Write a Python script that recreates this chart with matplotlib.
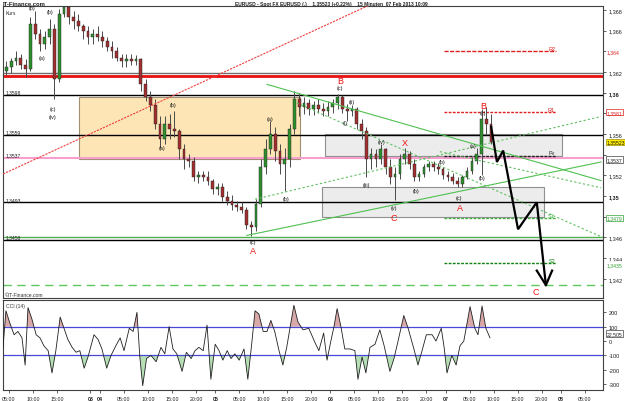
import matplotlib
matplotlib.use('Agg')
import matplotlib.pyplot as plt
import matplotlib.transforms as mtrans
from matplotlib.patches import Rectangle
import numpy as np

plt.rcParams['font.family'] = ['Liberation Sans', 'DejaVu Sans']

# ---------------- data (hourly bars, x in trading hours from 01 Feb 00:00, weekend collapsed) -------------
bar_hours = list(range(4, 106))
closes = [1.3625, 1.3631, 1.3634, 1.3627, 1.3623, 1.3666, 1.3657, 1.3647, 1.3654, 1.3662,
          1.3613, 1.3676, 1.3683, 1.3673, 1.3669, 1.3664, 1.3660, 1.3654, 1.3657, 1.3654,
          1.3650, 1.3644, 1.3640, 1.3634, 1.3631, 1.3633, 1.3631, 1.3633, 1.3608, 1.3596,
          1.3588, 1.3570, 1.3555, 1.3570, 1.3565, 1.3563, 1.3546, 1.3536, 1.3534, 1.3518,
          1.3520, 1.3518, 1.3515, 1.3507, 1.3509, 1.3499, 1.3495, 1.3491, 1.3489, 1.3487,
          1.3472, 1.3470, 1.3492, 1.3528, 1.3546, 1.3560, 1.3544, 1.3531, 1.3536, 1.3565,
          1.3594, 1.3586, 1.3590, 1.3584, 1.3588, 1.3584, 1.3582, 1.3586, 1.3590, 1.3596,
          1.3584, 1.3582, 1.3584, 1.3570, 1.3563, 1.3536, 1.3541, 1.3536, 1.3546, 1.3528,
          1.3518, 1.3521, 1.3536, 1.3541, 1.3531, 1.3518, 1.3521, 1.3528, 1.3531, 1.3528,
          1.3526, 1.3520, 1.3518, 1.3515, 1.3512, 1.3518, 1.3524, 1.3534, 1.3541, 1.3575,
          1.3570, 1.35523]
highs = [1.3631, 1.3634, 1.3640, 1.3637, 1.3633, 1.3673, 1.3679, 1.3662, 1.3660, 1.3671,
         1.3666, 1.3681, 1.3691, 1.3686, 1.3679, 1.3676, 1.3666, 1.3664, 1.3662, 1.3664,
         1.3660, 1.3654, 1.3650, 1.3644, 1.3637, 1.3637, 1.3637, 1.3636, 1.3634, 1.3613,
         1.3602, 1.3594, 1.3577, 1.3577, 1.3579, 1.3582, 1.3565, 1.3550, 1.3541, 1.3538,
         1.3524, 1.3524, 1.3524, 1.3517, 1.3513, 1.3513, 1.3505, 1.3501, 1.3495, 1.3494,
         1.3489, 1.3476, 1.3497, 1.3536, 1.3555, 1.3573, 1.3567, 1.3550, 1.3547, 1.3570,
         1.3602, 1.3600, 1.3596, 1.3594, 1.3592, 1.3594, 1.3590, 1.3592, 1.3594, 1.3599,
         1.3598, 1.3589, 1.3588, 1.3586, 1.3575, 1.3567, 1.3547, 1.3546, 1.3550, 1.3547,
         1.3536, 1.3528, 1.3541, 1.3547, 1.3544, 1.3536, 1.3524, 1.3531, 1.3534, 1.3534,
         1.3532, 1.3528, 1.3524, 1.3522, 1.3518, 1.3520, 1.3528, 1.3538, 1.3547, 1.3584,
         1.3586, 1.3579]
lows = [1.3617, 1.3619, 1.3627, 1.3623, 1.3615, 1.3621, 1.3652, 1.3640, 1.3642, 1.3647,
        1.3594, 1.3610, 1.3673, 1.3666, 1.3662, 1.3660, 1.3652, 1.3647, 1.3647, 1.3650,
        1.3644, 1.3640, 1.3634, 1.3631, 1.3625, 1.3625, 1.3627, 1.3627, 1.3602, 1.3592,
        1.3582, 1.3565, 1.3547, 1.3550, 1.3555, 1.3557, 1.3536, 1.3526, 1.3528, 1.3515,
        1.3513, 1.3515, 1.3511, 1.3502, 1.3501, 1.3495, 1.3491, 1.3487, 1.3486, 1.3484,
        1.3468, 1.3461, 1.3466, 1.3489, 1.3521, 1.3541, 1.3534, 1.3521, 1.3505, 1.3528,
        1.3560, 1.3577, 1.3579, 1.3578, 1.3578, 1.3580, 1.3577, 1.3577, 1.3580, 1.3584,
        1.3580, 1.3573, 1.3577, 1.3565, 1.3555, 1.3518, 1.3526, 1.3528, 1.3531, 1.3521,
        1.3512, 1.3496, 1.3517, 1.3531, 1.3526, 1.3515, 1.3515, 1.3518, 1.3524, 1.3524,
        1.3521, 1.3517, 1.3515, 1.3512, 1.3509, 1.3509, 1.3517, 1.3521, 1.3531, 1.3520,
        1.3560, 1.3550]
first_open = 1.3621

cci_t = [3.8, 4.4, 5.25, 6.1, 6.9, 7.75, 8.4, 9.0, 9.8, 10.7, 11.5, 12.3, 13.2, 14.0, 14.8, 15.7,
         16.5, 17.3, 18.2, 19.0, 19.8, 20.7, 21.5, 22.75, 23.6, 24.4, 25.4, 26.3, 27.3, 28.2, 29.0,
         30.1, 30.9, 31.7, 32.3, 32.9, 33.7, 34.6, 35.7, 36.7, 37.5, 38.4, 39.2, 40.0, 41.1, 42.0,
         43.0, 43.8, 44.6, 45.5, 46.3, 47.1, 48.0, 48.8, 49.6, 50.5, 51.3, 52.1, 53.0, 54.0, 54.8,
         55.6, 56.3, 57.1, 58.0, 58.8, 59.6, 60.4, 61.3, 62.1, 62.9, 63.8, 64.4, 65.25, 66.3, 67.5,
         68.8, 69.6, 70.6, 71.3, 72.1, 72.75, 73.4, 74.2, 75.0, 76.1, 77.1, 77.75, 78.6, 79.4, 80.25,
         81.3, 82.3, 83.2, 84.4, 85.25, 86.1, 87.3, 88.2, 89.4, 90.25, 91.1, 92.0, 93.2, 94.0, 95.1,
         95.7, 96.3, 97.3, 98.2, 99.0, 99.8, 101.1, 102.1, 102.75, 103.6, 104.4, 105.25]
cci_v = [-44, 211, 122, 44, 67, 22, -167, 233, 155, 44, 22, -33, -67, -222, -67, 167, 89, 11, -44,
         -78, -67, -189, -111, 44, 11, -55, -189, -100, -33, 22, -67, 89, 67, 200, -111, -311, -122,
         -100, -144, -44, -89, 100, -55, -89, -211, -78, -122, -67, -44, -67, 111, -266, -22, -67,
         -133, -67, -122, -89, -133, -55, -266, -22, 211, 189, 67, 67, 144, 67, -67, -167, -44, 133,
         249, 133, 78, 89, -11, -67, 56, -133, 0, 100, 226, 100, -55, -55, -67, -266, -111, -222,
         -44, -22, 78, -33, -211, -122, 0, 178, 89, -55, -167, -67, 44, 44, 0, 89, -44, -222, -100,
         -167, -33, 0, 240, 89, 44, 244, 89, 22.505]

# support / resistance levels (full width)
level_black = [1.3598, 1.3559, 1.3494, 1.3458]
level_black_labels = ['1,3598', '1,3559', '1,3493', '1,3458']
level_pink = 1.3537
level_red = 1.3616
level_grey = 1.3619
level_green = 1.3460
level_target = 1.3414

# pivots (R2, R1, Pv, S1, S2)
pivot_names = ['R2', 'R1', 'Pv', 'S1', 'S2']
pivot_values = [1.3640, 1.3581, 1.3539, 1.3479, 1.3435]
pivot_colors = ['#e02020', '#e02020', '#202020', '#40b040', '#108010']
pivot_span = (95.7, 119.0)

# zones: (t0, t1, p0, p1)
zone_yellow = (19.6, 65.7, 1.3536, 1.3596)
zone_grey1 = (70.9, 120.25, 1.3539, 1.3560)
zone_grey2 = (70.25, 116.5, 1.3480, 1.3509)

# trend lines: ((t0,p0),(t1,p1), colour, style)
trend_lines = [((3.17, 1.3520), (79.8, 1.3684), '#f04040', (0, (2, 1))),
               ((58.8, 1.3608), (128.4, 1.3515), '#50c050', '-'),
               ((65.0, 1.3590), (128.8, 1.3460), '#60c060', (0, (2, 2))),
               ((94.8, 1.3543), (128.4, 1.3508), '#60c060', (0, (2, 2))),
               ((56.3, 1.3497), (128.4, 1.3577), '#60c060', (0, (2, 2))),
               ((54.6, 1.3462), (128.4, 1.3533), '#50c050', '-')]

# projected path
proj_t = [105.5, 106.7, 108.0, 111.1, 115.0, 116.9]
proj_p = [1.3567, 1.3533, 1.3544, 1.3468, 1.3494, 1.3414]
head_t = [115.0, 116.9, 118.2]
head_p = [1.3428, 1.3414, 1.3428]

# wave labels
wave_small = [('(b)', 9.8, 1.3682), ('(b)', 13.6, 1.3678), ('(a)', 11.9, 1.3634), ('(c)', 14.2, 1.3585),
              ('(iv)', 14.2, 1.3577), ('(b)', 39.2, 1.3589), ('(a)', 36.9, 1.3547), ('(c)', 55.9, 1.3456),
              ('(a)', 59.4, 1.3575), ('(b)', 62.75, 1.3498), ('(c)', 74.0, 1.3605), ('(ii)', 76.5, 1.3591),
              ('(i)', 75.0, 1.3571), ('(iv)', 82.75, 1.3553), ('(iii)', 79.6, 1.3511), ('(v)', 85.25, 1.3489),
              ('(b)', 89.8, 1.3505), ('(b)', 95.25, 1.3533), ('(c)', 98.8, 1.3499), ('(a)', 101.7, 1.3549),
              ('(b)', 103.6, 1.3518), ('(c)', 103.8, 1.3581)]
wave_big = [('A', 55.9, 1.3447), ('B', 74.0, 1.3612), ('C', 85.25, 1.3479), ('X', 87.5, 1.3552),
            ('A', 99.0, 1.3489), ('B', 103.8, 1.3588), ('C', 114.8, 1.3408)]

# x ticks
tick_hours = [5, 10, 15, 22, 24, 29, 34, 39, 44, 48, 53, 58, 63, 68, 72, 77, 82, 87, 92, 96,
              101, 106, 111, 116, 120, 125]
tick_labels = ['05:00', '10:00', '15:00', '03', '04', '05:00', '10:00', '15:00', '20:00', '05',
               '05:00', '10:00', '15:00', '20:00', '06', '05:00', '10:00', '15:00', '20:00', '07',
               '05:00', '10:00', '15:00', '20:00', '08', '05:00']

# price axis ticks (labels hidden where a value box sits on top of them)
price_ticks = [1.342, 1.344, 1.346, 1.348, 1.350, 1.352, 1.354, 1.356, 1.358, 1.360, 1.362, 1.364, 1.366, 1.368]
price_tick_labels = ['1,342', '1,344', '1,346', '', '1,35', '1,352', '', '1,356', '',
                     '1,36', '1,362', '', '1,366', '1,368']
cci_ticks = [200, 100, 0, -100, -200, -300]

# ---------------- figure ----------------
W, H = 625, 402
fig = plt.figure(figsize=(W / 100, H / 100), dpi=100)
ax = fig.add_axes([3 / W, 1 - 299 / H, 600 / W, 292 / H])
axc = fig.add_axes([3 / W, 1 - 391 / H, 600 / W, 90 / H])

XMIN, XMAX = 3.79, 128.8
ax.set_xlim(XMIN, XMAX)
ax.set_ylim(1.34015, 1.36838)
axc.set_xlim(XMIN, XMAX)
axc.set_ylim(-341, 286)

for a in (ax, axc):
    for s in a.spines.values():
        s.set_color('#404040')
        s.set_linewidth(0.8)

# zones
for (t0, t1, p0, p1), fc, ec in [(zone_yellow, '#fde5b6', '#a09070'),
                                 (zone_grey1, '#ececec', '#909090'),
                                 (zone_grey2, '#ececec', '#909090')]:
    ax.add_patch(Rectangle((t0, p0), t1 - t0, p1 - p0, facecolor=fc, edgecolor=ec, lw=0.8, zorder=1))

# horizontal levels
ax.axhline(level_grey, color='#707070', lw=1.0, zorder=2)
ax.axhline(level_red, color='#e81010', lw=2.0, zorder=2)
ax.axhline(level_pink, color='#f7a0d0', lw=1.5, zorder=2)
ax.axhline(level_green, color='#50b050', lw=1.0, zorder=2)
for lv in level_black:
    ax.axhline(lv, color='black', lw=1.0, zorder=2)
ax.axhline(level_target, color='#60c860', lw=1.0, ls=(0, (6, 4)), zorder=2)

ylab = mtrans.blended_transform_factory(ax.transAxes, ax.transData)
for lv, lab in zip(level_black, level_black_labels):
    ax.text(0.004, lv + 0.00005, lab, transform=ylab, fontsize=3.6, color='#202020', va='bottom', ha='left')
ax.text(0.004, level_pink + 0.00008, '1,3537', transform=ylab, fontsize=3.6, color='#202020', va='bottom', ha='left')

# pivots
for name, v, col in zip(pivot_names, pivot_values, pivot_colors):
    ls = (0, (2, 1)) if name != 'R2' else (0, (3, 1))
    ax.plot(pivot_span, [v, v], color=col, lw=1.0, ls=ls, zorder=2)
    ax.text(pivot_span[1] - 0.2, v + 0.00003, name, fontsize=4, color=col, ha='right', va='bottom', zorder=6)

# candles
t = np.array(bar_hours) + 0.5
c = np.array(closes)
o = np.array([first_open] + closes[:-1])
hi = np.array(highs)
lo = np.array(lows)
up = c >= o
ax.vlines(t, lo, hi, color='#4a4a4a', lw=0.7, zorder=3)
ax.bar(t[up], (c - o)[up], bottom=o[up], width=0.55, color='#2f8f2f', edgecolor='#202020', lw=0.3, zorder=4)
ax.bar(t[~up], (c - o)[~up], bottom=o[~up], width=0.55, color='#a03030', edgecolor='#202020', lw=0.3, zorder=4)

# trend lines
for (t0, p0), (t1, p1), col, ls in trend_lines:
    ax.plot([t0, t1], [p0, p1], color=col, lw=0.8, ls=ls, zorder=5)

# projection
ax.plot(proj_t, proj_p, color='black', lw=1.6, zorder=6, solid_joinstyle='miter')
ax.plot(head_t, head_p, color='black', lw=1.6, zorder=6)

# wave labels
for s, x, y in wave_small:
    ax.text(x, y, s, fontsize=3.9, color='#101010', ha='center', va='center', zorder=7)
for s, x, y in wave_big:
    ax.text(x, y, s, fontsize=6.5, color='#ee1111', ha='center', va='center', zorder=7)

# price axis
ax.yaxis.tick_right()
ax.set_yticks(price_ticks)
ax.set_yticklabels(price_tick_labels)
ax.tick_params(axis='y', length=2, width=0.5, labelsize=4.0, pad=2, colors='#202020')
for lbl in ax.get_yticklabels():
    if lbl.get_text() in ('1,35', '1,36'):
        lbl.set_fontweight('bold')
ax.set_xticks([])

rt = mtrans.blended_transform_factory(ax.transAxes, ax.transData)
boxes = [(1.3640, '1,364', '#e02020', 'white', 'white'),
         (1.3581, '1,3581', '#e02020', 'white', '#e02020'),
         (1.35523, '1,35523', '#101010', '#ffee00', '#a09000'),
         (1.35355, '1,3537', '#202020', 'white', '#404040'),
         (1.3479, '1,3479', '#30a030', 'white', '#30a030'),
         (1.3434, '1,3435', '#30a030', 'white', 'white')]
for v, s, tc, fc, ec in boxes:
    ax.text(1.0065, v, s, transform=rt, fontsize=3.7, color=tc, va='center', ha='left', zorder=8,
            bbox=dict(boxstyle='square,pad=0.12', fc=fc, ec=ec, lw=0.5), clip_on=False)

# texts
fig.text(3 / W, 1 - 4.5 / H, 'IT-Finance.com', fontsize=4.2, fontweight='bold', color='#202020', va='center', ha='left')
fig.text(331 / W, 1 - 4.5 / H, 'EURUSD - Spot FX EURUSD (.)    1,35523 (+0,22%)    15 Minuten  07 Feb 2013 10:09',
         fontsize=3.5, fontweight='bold', color='#202020', va='center', ha='center')
ax.text(0.005, 0.985, 'Kurs', transform=ax.transAxes, fontsize=3.6, color='#303030', va='top', ha='left')
ax.text(0.003, 0.004, '©IT-Finance.com', transform=ax.transAxes, fontsize=3.6, color='#303030', va='bottom', ha='left')

# ---------------- CCI ----------------
ct = np.array(cci_t)
cv = np.array(cci_v, dtype=float)
axc.fill_between(ct, 100, cv, where=cv > 100, interpolate=True, color='#d9a8a8', lw=0, zorder=1)
axc.fill_between(ct, -100, cv, where=cv < -100, interpolate=True, color='#b6dfb6', lw=0, zorder=1)
axc.axhline(100, color='#4848d8', lw=0.9, zorder=2)
axc.axhline(-100, color='#4848d8', lw=0.9, zorder=2)
axc.plot(ct, cv, color='#202020', lw=0.6, zorder=3)
axc.text(0.005, 0.97, 'CCI (14)', transform=axc.transAxes, fontsize=3.6, color='#303030', va='top', ha='left')

axc.yaxis.tick_right()
axc.set_yticks(cci_ticks)
axc.set_yticklabels([str(v) for v in cci_ticks])
axc.tick_params(axis='y', length=2, width=0.5, labelsize=4.0, pad=2, colors='#202020')
rc = mtrans.blended_transform_factory(axc.transAxes, axc.transData)
axc.text(1.0065, 52, '22,505', transform=rc, fontsize=3.7, color='#202020', va='center', ha='left',
         bbox=dict(boxstyle='square,pad=0.12', fc='white', ec='#404040', lw=0.5), clip_on=False, zorder=8)

axc.set_xticks(tick_hours)
axc.set_xticklabels(tick_labels)
axc.tick_params(axis='x', length=2, width=0.5, labelsize=3.8, pad=2, colors='#202020')
for lbl in axc.get_xticklabels():
    if ':' not in lbl.get_text():
        lbl.set_fontweight('bold')

fig.savefig('out.png', dpi=100, facecolor='white')
